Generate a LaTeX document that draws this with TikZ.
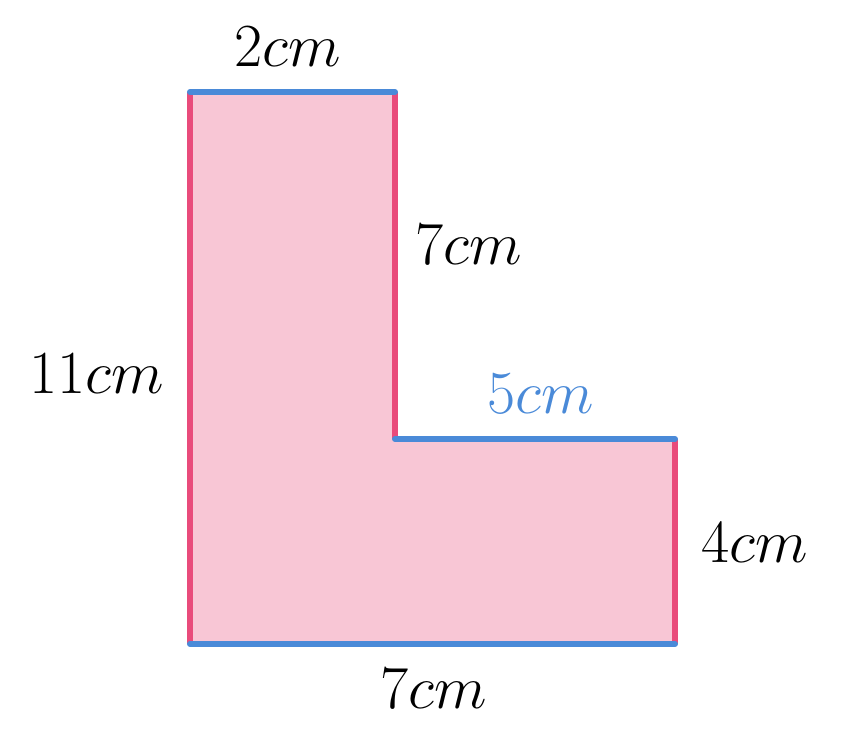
\documentclass[tikz,border=0pt]{standalone}
\usepackage{amsmath}
\definecolor{lfill}{HTML}{F8C6D5}
\definecolor{lred}{HTML}{E94B7B}
\definecolor{lblue}{HTML}{4A8AD8}
\tikzset{
  side/.style={line width=3.4pt},
  lab/.style={inner sep=0pt, font=\Huge, scale=1.4, transform shape}
}
\begin{document}
\begin{tikzpicture}
    \useasboundingbox (0,0) rectangle (16.88,15);
      \coordinate (tl) at (3.8,13.16);
      \coordinate (tr) at (7.9,13.16);
      \coordinate (in) at (7.9,6.22);
      \coordinate (rt) at (13.5,6.22);
      \coordinate (br) at (13.5,2.12);
      \coordinate (bl) at (3.8,2.12);
    \fill[lfill] (tl) -- (tr) -- (in) -- (rt) -- (br) -- (bl) -- cycle;
    \draw[side, lred] (tr) -- (in) (rt) -- (br) (bl) -- (tl);
    \draw[side, lblue, line cap=round] (tl) -- (tr) (in) -- (rt) (br) -- (bl);

    \node[lab, anchor=base] (top) at (5.76,13.66) {$2cm$};
    \node[lab, anchor=base west] (mid) at (8.3,9.7) {$7cm$};
    \node[lab, anchor=base east] (left) at (3.28,7.12) {$11cm$};
    \node[lab, anchor=base, text=lblue] (inner) at (10.82,6.74) {$5cm$};
    \node[lab, anchor=base west] (right) at (14.02,3.76) {$4cm$};
    \node[lab, anchor=base] (bot) at (8.68,0.84) {$7cm$};
  \end{tikzpicture}
\end{document}
